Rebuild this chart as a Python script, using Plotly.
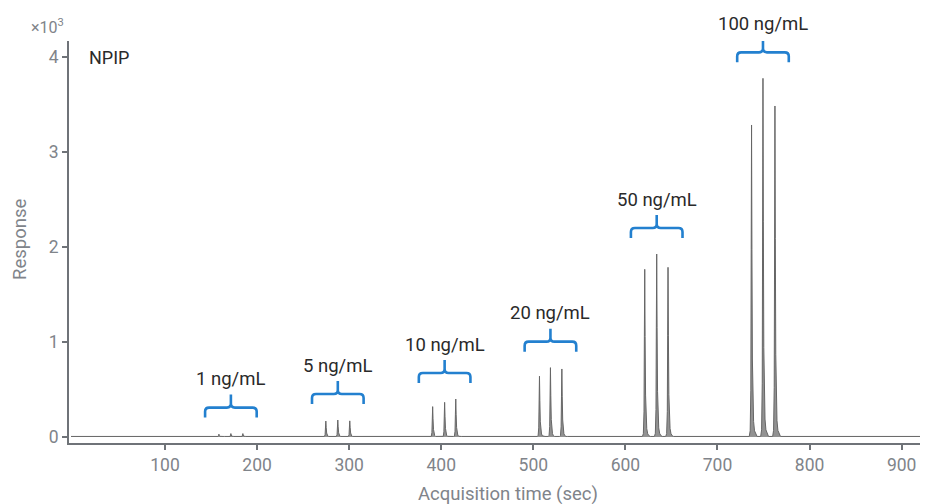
import plotly.graph_objects as go

# ---- data ----
group_labels = ["1 ng/mL", "5 ng/mL", "10 ng/mL", "20 ng/mL", "50 ng/mL", "100 ng/mL"]
peak_times = [
    [158.6, 171.6, 184.6],
    [274.7, 287.7, 300.7],
    [390.7, 403.7, 415.8],
    [506.7, 518.6, 531.0],
    [621.0, 634.0, 646.3],
    [737.0, 749.4, 762.4],
]
peak_heights = [  # x10^3 response
    [0.030, 0.036, 0.036],
    [0.168, 0.179, 0.170],
    [0.320, 0.365, 0.400],
    [0.640, 0.730, 0.716],
    [1.765, 1.926, 1.786],
    [3.284, 3.775, 3.484],
]
baseline_level = 0.006
x_ticks = [100, 200, 300, 400, 500, 600, 700, 800, 900]
y_ticks = [0, 1, 2, 3, 4]

# peak profile (offset in sec, relative height) – shape style of one chromatographic peak
profile_offsets = [-2.5, -1.5, -0.8, -0.4, 0.0, 0.4, 0.9, 1.5, 2.2, 3.2, 4.5, 6.0]
profile_rel = [0.0, 0.02, 0.15, 0.6, 1.0, 0.6, 0.25, 0.1, 0.05, 0.02, 0.008, 0.0]

X_MIN, X_MAX = -4.2, 928.6
Y_MIN, Y_MAX = -0.063, 4.168

# page offset of the figure (browser body margin)
OFF = 8
PLOT_L, PLOT_T, PLOT_W, PLOT_H = 69, 41, 859, 402  # in page pixels

# ---- build chromatogram trace ----
xs = [-2.0]
ys = [baseline_level]
for times, heights in zip(peak_times, peak_heights):
    for t, h in zip(times, heights):
        for o, r in zip(profile_offsets, profile_rel):
            xs.append(t + o)
            ys.append(max(baseline_level, h * r))
xs.append(X_MAX)
ys.append(baseline_level)

fig = go.Figure()
fig.add_trace(go.Scatter(
    x=xs, y=ys, mode="lines", fill="tozeroy",
    fillcolor="#929292", line=dict(color="#666666", width=1),
    hoverinfo="skip", showlegend=False,
))

# ---- brackets + labels ----
PX_PER_Y = PLOT_H / (Y_MAX - Y_MIN)
PX_PER_X = PLOT_W / (X_MAX - X_MIN)
def py(px):
    return px / PX_PER_Y
def pxx(px):
    return px / PX_PER_X
def paper_x(page_px):
    return (page_px - PLOT_L) / PLOT_W
def paper_y(page_px):
    return (PLOT_T + PLOT_H - page_px) / PLOT_H

blue = "#2380cf"
shapes = []
annotations = []
for label, times, heights in zip(group_labels, peak_times, peak_heights):
    xc = times[1]
    half = pxx(25.8)
    x0, x1 = xc - half, xc + half
    ytop = max(heights) + py(26)
    yend = ytop - py(10)
    ytick = ytop + py(13)
    rx, ry = pxx(4), py(4)
    path = (
        f"M {x0},{yend} L {x0},{ytop - ry} Q {x0},{ytop} {x0 + rx},{ytop} "
        f"L {xc - rx},{ytop} Q {xc},{ytop} {xc},{ytop + ry} L {xc},{ytick} "
        f"M {xc},{ytop + ry} Q {xc},{ytop} {xc + rx},{ytop} "
        f"L {x1 - rx},{ytop} Q {x1},{ytop} {x1},{ytop - ry} L {x1},{yend}"
    )
    shapes.append(dict(type="path", path=path, xref="x", yref="y",
                       line=dict(color=blue, width=2.6)))
    ylab = ytick + py(15.5)
    annotations.append(dict(x=xc, y=(ylab - Y_MIN) / (Y_MAX - Y_MIN),
                            xref="x", yref="paper",
                            text=label, showarrow=False,
                            font=dict(size=18.5, color="#2a2a2a"),
                            xanchor="center", yanchor="middle"))

annotations += [
    dict(x=paper_x(87), y=paper_y(57), xref="paper", yref="paper",
         text="NPIP", showarrow=False, xanchor="left", yanchor="middle",
         font=dict(size=18, color="#2a2a2a")),
    dict(x=paper_x(29), y=paper_y(26), xref="paper", yref="paper",
         text="×10<sup>3</sup>", showarrow=False, xanchor="left", yanchor="middle",
         font=dict(size=16, color="#80848a")),
    dict(x=paper_x(20), y=paper_y(240), xref="paper", yref="paper",
         text="Response", showarrow=False, textangle=-90,
         xanchor="center", yanchor="middle",
         font=dict(size=18.5, color="#80848a")),
    dict(x=paper_x(508), y=paper_y(494), xref="paper", yref="paper",
         text="Acquisition time (sec)", showarrow=False,
         xanchor="center", yanchor="middle",
         font=dict(size=18.5, color="#80848a")),
]

axis_common = dict(
    showgrid=False, zeroline=False, showline=True, linecolor="#6f7378", linewidth=2,
    ticks="outside", ticklen=5, tickwidth=1.5, tickcolor="#6f7378",
    tickfont=dict(size=17.5, color="#80848a", family="Roboto"),
)
FIG_W, FIG_H = 928 - OFF, 504 - OFF
fig.update_layout(
    width=FIG_W, height=FIG_H,
    margin=dict(l=PLOT_L - OFF, r=FIG_W + OFF - PLOT_L - PLOT_W,
                t=PLOT_T - OFF, b=FIG_H + OFF - PLOT_T - PLOT_H),
    paper_bgcolor="white", plot_bgcolor="white",
    font=dict(family="Roboto"),
    xaxis=dict(range=[X_MIN, X_MAX], tickvals=x_ticks, **axis_common),
    yaxis=dict(range=[Y_MIN, Y_MAX], tickvals=y_ticks, **axis_common),
    shapes=shapes, annotations=annotations,
)
fig.write_html("out.html")
